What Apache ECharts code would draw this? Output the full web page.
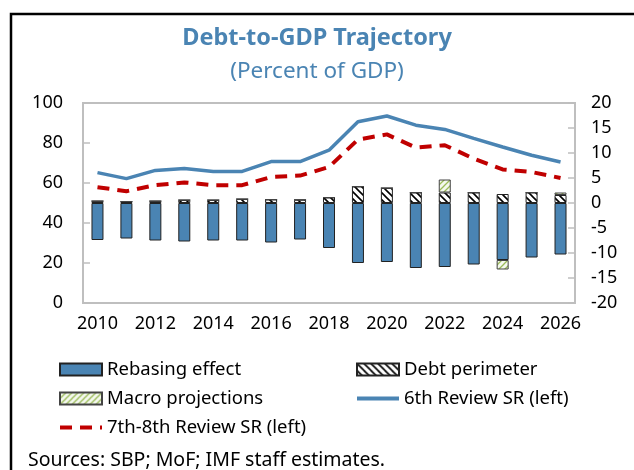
<!DOCTYPE html>
<html>
<head>
<meta charset="utf-8">
<script src="https://cdn.jsdelivr.net/npm/echarts@6/dist/echarts.min.js"></script>
<style>
  html, body { margin: 0; padding: 0; background: #fff; }
  #chart { width: 634px; height: 470px; }
</style>
</head>
<body>
<div id="chart"></div>
<script>
// data
const years = ['2010', '2011', '2012', '2013', '2014', '2015', '2016', '2017', '2018',
  '2019', '2020', '2021', '2022', '2023', '2024', '2025', '2026'];
const rebasing = [-7.4, -7.1, -7.5, -7.7, -7.5, -7.5, -7.9, -7.3, -9.0,
  -12.0, -11.8, -13.0, -12.8, -12.3, -11.4, -10.9, -10.3];
const perimeter = [0.4, 0.3, 0.4, 0.6, 0.6, 0.8, 0.7, 0.65, 1.1,
  3.3, 3.0, 2.1, 2.1, 2.1, 1.8, 2.1, 1.6];
const macro = [0, 0, 0, 0, 0, 0, 0, 0, 0,
  0, 0, 0, 2.6, 0, -1.9, 0, 0.5];
const review6 = [65.2, 62.2, 66.3, 67.3, 65.8, 65.8, 70.7, 70.7, 76.4,
  90.6, 93.5, 88.9, 86.8, 82.3, 78.0, 73.9, 70.5];
const review78 = [57.9, 55.9, 58.9, 60.3, 58.9, 58.9, 63.0, 63.7, 68.0,
  81.7, 84.3, 77.7, 78.9, 72.2, 66.8, 65.5, 62.5];

const blue = '#4a84b3';
const red = '#c00000';
const font = 'Noto Sans';

// black "\" hatch on white
function hatchBlack() {
  const s = 7;
  const c = document.createElement('canvas');
  c.width = s; c.height = s;
  const g = c.getContext('2d');
  g.fillStyle = '#fff';
  g.fillRect(0, 0, s, s);
  g.strokeStyle = '#000';
  g.lineWidth = 1.6;
  g.beginPath();
  g.moveTo(-1, -1); g.lineTo(s + 1, s + 1);
  g.moveTo(-1, s - 1); g.lineTo(1, s + 1);
  g.moveTo(s - 1, -1); g.lineTo(s + 1, 1);
  g.stroke();
  return c;
}
// light green "/" hatch
function hatchGreen() {
  const s = 6;
  const c = document.createElement('canvas');
  c.width = s; c.height = s;
  const g = c.getContext('2d');
  g.fillStyle = '#f4f8ee';
  g.fillRect(0, 0, s, s);
  g.strokeStyle = '#9bbb59';
  g.lineWidth = 1.3;
  g.beginPath();
  g.moveTo(-1, s + 1); g.lineTo(s + 1, -1);
  g.moveTo(-1, 1); g.lineTo(1, -1);
  g.moveTo(s - 1, s + 1); g.lineTo(s + 1, s - 1);
  g.stroke();
  return c;
}

const chart = echarts.init(document.getElementById('chart'), null, { renderer: 'canvas' });
const axisGray = '#bfbfbf';
const txt = { fontFamily: font, fontSize: 18, color: '#000' };
const legendBase = { orient: 'vertical', top: 360, itemGap: 10, itemWidth: 42, itemHeight: 12,
  padding: 0, textStyle: { ...txt, fontSize: 18.5 } };

chart.setOption({
  animation: false,
  title: [
    { text: 'Debt-to-GDP Trajectory', left: 'center', top: 21,
      textStyle: { fontFamily: font, fontSize: 23.5, fontWeight: 'bold', color: blue } },
    { text: '(Percent of GDP)', left: 'center', top: 55,
      textStyle: { fontFamily: font, fontSize: 22.5, fontWeight: 'normal', color: blue } }
  ],
  graphic: [
    { type: 'rect', shape: { x: 11, y: 14, width: 700, height: 520 },
      style: { fill: null, stroke: '#000', lineWidth: 2.5 }, silent: true },
    { type: 'text', left: 28, top: 450,
      style: { text: 'Sources: SBP; MoF; IMF staff estimates.', fontFamily: font, fontSize: 19.5, fill: '#000' } }
  ],
  grid: { left: 83, right: 59, top: 103, bottom: 167, show: true, borderColor: axisGray, borderWidth: 2 },
  legend: [
    { ...legendBase, left: 58,
      data: [
        { name: 'Rebasing effect', icon: 'rect' },
        { name: 'Macro projections', icon: 'rect' },
        { name: '7th-8th Review SR (left)', itemStyle: { opacity: 0 }, lineStyle: { width: 4 } }
      ] },
    { ...legendBase, left: 355,
      data: [
        { name: 'Debt perimeter', icon: 'rect' },
        { name: '6th Review SR (left)', itemStyle: { opacity: 0 }, lineStyle: { width: 4 } }
      ] }
  ],
  xAxis: {
    type: 'category', data: years,
    axisLine: { lineStyle: { color: axisGray, width: 2 } },
    axisTick: { inside: true, length: 5, interval: 0, lineStyle: { color: axisGray, width: 1.5 } },
    axisLabel: { interval: 1, ...txt, margin: 12 }
  },
  yAxis: [
    { type: 'value', min: 0, max: 100, interval: 20, position: 'left',
      axisLine: { show: true, lineStyle: { color: axisGray, width: 2 } },
      axisTick: { show: true, inside: true, length: 7, lineStyle: { color: axisGray, width: 1.5 } },
      splitLine: { show: false },
      axisLabel: { ...txt, margin: 20 } },
    { type: 'value', min: -20, max: 20, interval: 5, position: 'right',
      axisLine: { show: true, lineStyle: { color: axisGray, width: 2 } },
      axisTick: { show: true, inside: true, length: 7, lineStyle: { color: axisGray, width: 1.5 } },
      splitLine: { show: false },
      axisLabel: { ...txt, margin: 16 } }
  ],
  series: [
    { name: 'Rebasing effect', type: 'bar', stack: 'b', yAxisIndex: 1, barWidth: 12, data: rebasing,
      itemStyle: { color: blue, borderColor: '#222', borderWidth: 1 } },
    { name: 'Debt perimeter', type: 'bar', stack: 'b', yAxisIndex: 1, barWidth: 12, data: perimeter,
      itemStyle: { color: { image: hatchBlack(), repeat: 'repeat' }, borderColor: '#222', borderWidth: 1 } },
    { name: 'Macro projections', type: 'bar', stack: 'b', yAxisIndex: 1, barWidth: 12, data: macro,
      itemStyle: { color: { image: hatchGreen(), repeat: 'repeat' }, borderColor: '#444', borderWidth: 1 } },
    { name: '6th Review SR (left)', type: 'line', yAxisIndex: 0, data: review6, symbol: 'none',
      lineStyle: { color: blue, width: 3.5 }, itemStyle: { color: blue } },
    { name: '7th-8th Review SR (left)', type: 'line', yAxisIndex: 0, data: review78, symbol: 'none',
      lineStyle: { color: red, width: 4, type: [12, 8] }, itemStyle: { color: red } }
  ]
});
</script>
</body>
</html>
